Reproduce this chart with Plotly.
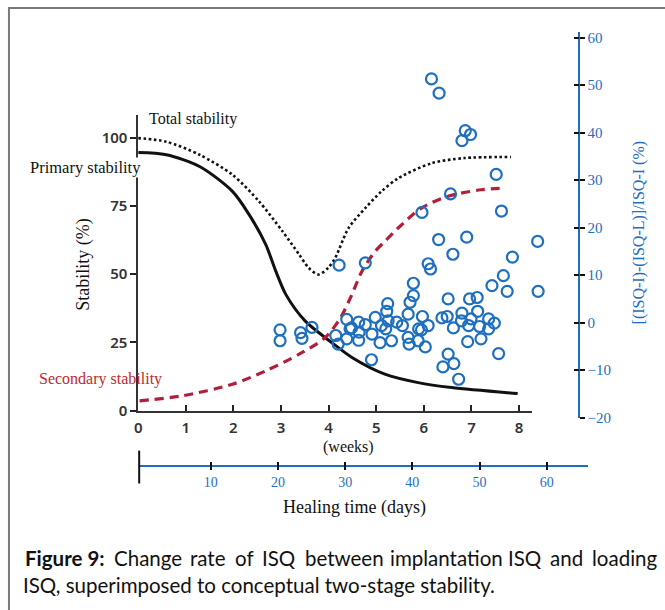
import plotly.graph_objects as go

# ---------------- data ----------------
weeks_total = [0, 0.59, 1.29, 1.98, 2.54, 3.03, 3.38, 3.58, 3.79, 4.0, 4.14, 4.42, 4.77, 5.11, 5.46, 6.16, 6.85, 7.83]
total_stability = [99.8, 98.5, 93.7, 86.4, 76.6, 65.7, 57.2, 52.3, 49.9, 52.5, 56.0, 66.9, 74.2, 80.3, 85.1, 90.6, 92.5, 92.9]

weeks_primary = [0, 0.59, 1.29, 1.98, 2.33, 2.68, 2.89, 3.10, 3.51, 4.07, 4.49, 5.18, 5.88, 6.58, 7.97]
primary_stability = [94.5, 93.7, 89.4, 80.3, 71.8, 60.8, 51.1, 42.6, 32.8, 24.9, 19.5, 13.4, 10.3, 8.5, 6.3]

weeks_secondary = [0.03, 0.94, 1.98, 2.68, 3.38, 3.93, 4.25, 4.49, 4.70, 4.98, 5.18, 5.46, 5.95, 6.51, 7.20, 7.72]
secondary_stability = [3.6, 5.5, 9.7, 14.6, 20.7, 26.8, 34.0, 42.6, 51.1, 58.4, 62.0, 66.9, 74.2, 78.5, 80.9, 81.5]

isq_weeks = [2.98, 2.98, 3.41, 3.44, 3.65, 4.15, 4.20, 4.22, 4.38, 4.45, 4.38, 4.63, 4.64, 4.63,
             4.77, 4.77, 4.91, 4.98, 5.08, 4.90, 5.11, 5.20, 5.24, 5.22, 5.25, 5.32, 5.43, 5.55,
             5.78, 5.78, 5.71, 5.67, 5.67, 5.69, 5.88, 5.89, 5.97, 6.09, 5.95, 6.03, 6.09, 6.14,
             6.61, 6.51, 6.38, 6.49, 6.62, 6.80, 6.79, 6.96, 7.12, 6.99, 6.94, 7.13, 7.17, 6.92,
             7.20, 7.36, 7.36, 7.48, 7.57, 6.51, 6.40, 6.63, 6.73, 7.43, 7.67, 7.75, 7.86, 8.39,
             8.40, 6.56, 5.96, 7.63, 6.31, 6.90, 6.16, 6.32, 6.87, 6.98, 6.80, 7.52, 4.48]
isq_change = [-1.5, -3.8, -2.1, -3.3, -1.0, -2.7, -4.5, 12.1, 0.7, -1.3, -3.4, 0.1, -2.0, -3.7,
              -0.4, 12.6, -2.4, 1.1, -4.2, -7.8, -0.6, -1.3, 4.0, 2.4, 0.4, -3.8, 0.1, -0.6,
              8.3, 5.7, 4.3, 1.8, -3.1, -4.5, -3.8, -1.3, 1.3, -0.6, -1.5, -5.1, 12.4, 11.3,
              14.4, 5.0, 1.0, 1.3, -1.1, 2.0, 0.4, 5.0, 5.3, 0.8, -0.6, 2.4, -0.8, -4.0,
              -3.4, 0.8, -1.3, -0.1, -6.5, -6.6, -9.3, -8.6, -11.9, 7.8, 9.9, 6.6, 13.8, 17.1,
              6.6, 27.1, 23.2, 23.5, 17.5, 18.0, 51.3, 48.3, 40.4, 39.6, 38.3, 31.2, -1.1]

week_ticks = [0, 1, 2, 3, 4, 5, 6, 7, 8]
stability_ticks = [0, 25, 50, 75, 100]
change_ticks = [-20, -10, 0, 10, 20, 30, 40, 50, 60]
day_ticks = [10, 20, 30, 40, 50, 60]

caption_line1 = ["<b>Figure 9:</b>", "Change", "rate", "of", "ISQ", "between",
                 "implantation", "ISQ", "and", "loading"]
caption_line2 = "ISQ, superimposed to conceptual two-stage stability."

# ---------------- geometry helpers ----------------
W, H = 665, 610
SY = 1 / 0.985          # vertical correction observed in the rendered picture
def px(x):
    return x / W
def py(y):
    return 1 - y * SY / H

BLUE = "#1f6fbf"
RED = "#b0203c"
SERIF = "Liberation Serif"
SANS = "Noto Sans"
CAP = "Lato"

fig = go.Figure()

fig.add_trace(go.Scatter(x=weeks_total, y=total_stability, mode="lines",
                         line=dict(color="#111", width=2.6, dash="2.6px,2.6px", shape="spline", smoothing=0.8),
                         xaxis="x", yaxis="y", hoverinfo="skip", showlegend=False))
fig.add_trace(go.Scatter(x=weeks_primary, y=primary_stability, mode="lines",
                         line=dict(color="#111", width=3, shape="spline", smoothing=0.8),
                         xaxis="x", yaxis="y", hoverinfo="skip", showlegend=False))
fig.add_trace(go.Scatter(x=weeks_secondary, y=secondary_stability, mode="lines",
                         line=dict(color=RED, width=3.2, dash="9px,6px", shape="spline", smoothing=0.8),
                         xaxis="x", yaxis="y", hoverinfo="skip", showlegend=False))
fig.add_trace(go.Scatter(x=isq_weeks, y=isq_change, mode="markers",
                         marker=dict(symbol="circle-open", size=11, color=BLUE, line=dict(width=2.2)),
                         xaxis="x3", yaxis="y2", showlegend=False, cliponaxis=False))
# empty traces so that the days axis and the crossing-tick overlay axes get drawn
fig.add_trace(go.Scatter(x=day_ticks, y=[None] * len(day_ticks), mode="markers",
                         xaxis="x2", yaxis="y2", hoverinfo="skip", showlegend=False))
fig.add_trace(go.Scatter(x=day_ticks, y=[None] * len(day_ticks), mode="markers",
                         xaxis="x4", yaxis="y2", hoverinfo="skip", showlegend=False))
fig.add_trace(go.Scatter(x=[None] * len(change_ticks), y=change_ticks, mode="markers",
                         xaxis="x3", yaxis="y4", hoverinfo="skip", showlegend=False))

day_range = [10 - 72 / 6.76, 10 - 72 / 6.76 + 452 / 6.76]
chg_range = [-20, 60 + 5.7 / 4.766]

fig.update_layout(
    width=W, height=H, margin=dict(l=0, r=0, t=0, b=0),
    paper_bgcolor="white", plot_bgcolor="rgba(0,0,0,0)",
    xaxis=dict(domain=[px(135), px(531)], range=[0, 396 / 47.9], anchor="y",
               tickvals=week_ticks, ticktext=[str(v) for v in week_ticks],
               ticks="inside", ticklen=6, tickwidth=1.5, tickcolor="#222", ticklabelstandoff=3,
               showline=True, linecolor="#333", linewidth=1.5, showgrid=False, zeroline=False,
               tickfont=dict(family=SANS, size=15, color="#333", weight=600)),
    yaxis=dict(domain=[py(410), py(113)], range=[0, 297 / 2.74], anchor="x",
               tickvals=stability_ticks, ticks="outside", ticklen=6, tickwidth=1.5, tickcolor="#222",
               showline=True, linecolor="#333", linewidth=1.5, showgrid=False, zeroline=False,
               tickfont=dict(family=SANS, size=15, color="#333", weight=600)),
    yaxis2=dict(domain=[py(417), py(30)], range=chg_range, anchor="free",
                position=px(578), side="right", tickvals=change_ticks,
                ticks="outside", ticklen=5, tickwidth=2, tickcolor="#111",
                showline=True, linecolor=BLUE, linewidth=2, showgrid=False, zeroline=False,
                tickfont=dict(family=SERIF, size=15, color=BLUE)),
    yaxis4=dict(overlaying="y2", range=chg_range, anchor="free",
                position=px(578), side="right", tickvals=change_ticks,
                ticks="inside", ticklen=5, tickwidth=2, tickcolor="#111",
                showticklabels=False, showline=False, showgrid=False, zeroline=False),
    xaxis3=dict(domain=[px(135), px(578)], range=[0, 443 / 47.9], anchor="y2", visible=False),
    xaxis2=dict(domain=[px(136), px(588)], range=day_range,
                anchor="free", position=py(465), side="bottom", tickvals=day_ticks,
                ticks="outside", ticklen=4, tickwidth=1.5, tickcolor="#111",
                showline=True, linecolor=BLUE, linewidth=1.5, showgrid=False, zeroline=False,
                tickfont=dict(family=SERIF, size=14, color=BLUE)),
    xaxis4=dict(overlaying="x2", range=day_range,
                anchor="free", position=py(465), side="bottom", tickvals=day_ticks,
                ticks="inside", ticklen=4, tickwidth=1.5, tickcolor="#111",
                showticklabels=False, showline=False, showgrid=False, zeroline=False),
)

shapes = [
    dict(type="rect", xref="paper", yref="paper", x0=px(5), x1=1.02, y0=-0.02, y1=py(6),
         line=dict(color="#7a7a7a", width=2), fillcolor="rgba(0,0,0,0)", layer="above"),
    dict(type="line", xref="paper", yref="paper", x0=px(136), x1=px(136), y0=py(450), y1=py(483),
         line=dict(color="#111", width=2)),
]
fig.update_layout(shapes=shapes)

ann = []
def add(text, x, y, xa="left", ya="middle", size=15, color="#111", family=SERIF, angle=0, bg=None):
    d = dict(text=text, x=px(x), y=py(y), xref="paper", yref="paper", xanchor=xa, yanchor=ya,
             showarrow=False, textangle=angle, font=dict(family=family, size=size, color=color))
    if bg:
        d["bgcolor"] = bg
        d["borderpad"] = 0
    ann.append(d)

add("Total stability", 144, 117, size=16)
add("Primary stability", 25, 166, size=16.5, bg="white")
add("Secondary stability", 33, 378, size=16, color="#c0282e")
add("Stability (%)", 80, 263, xa="center", size=18, angle=-90)
add("[(ISQ-I)-(ISQ-L)]/ISQ-I (%)", 639, 232, xa="center", size=16, color=BLUE, angle=-90)
add("(weeks)", 347, 446, xa="center", size=16)
add("Healing time (days)", 353, 507, xa="center", size=18)

# justified first caption line: words spread evenly between the left and right margins
word_w = [83, 68, 38, 19, 35, 82, 108, 35, 34, 66]
left, right = 20, 657
gap = (right - left - sum(word_w)) / (len(word_w) - 1)
xpos = left
for word, w in zip(caption_line1, word_w):
    add(word, xpos + w / 2, 558, xa="center", size=20.5, family=CAP, color="#111")
    xpos += w + gap
add(caption_line2, 17, 585, size=20.5, family=CAP, color="#111")
fig.update_layout(annotations=ann)

fig.write_html(
    "out.html",
    config={"displayModeBar": False},
    post_script=("var gd=document.getElementById('{plot_id}');"
                 "gd.style.position='absolute';gd.style.left='0px';gd.style.top='0px';"
                 "document.documentElement.style.margin='0px';"
                 "document.body.style.margin='0px';"
                 "document.body.style.overflow='hidden';"
                 "document.documentElement.style.overflow='hidden';"),
)
